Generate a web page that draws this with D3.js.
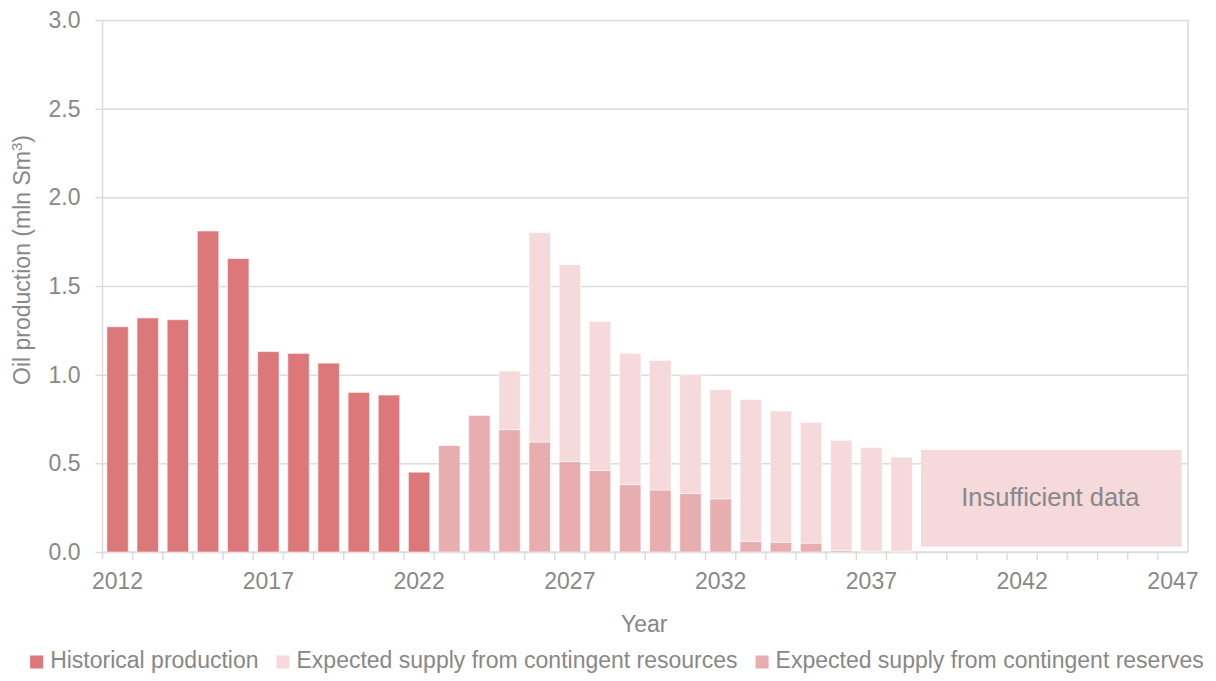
<!DOCTYPE html>
<html>
<head>
<meta charset="utf-8">
<script src="https://cdn.jsdelivr.net/npm/d3@7"></script>
<style>
  html, body { margin: 0; padding: 0; background: #fff; }
  svg text { font-family: "Liberation Sans", Arial, sans-serif; fill: #888888; }
</style>
</head>
<body>
<svg id="chart" width="1216" height="681"></svg>
<script>
// Years on the category axis
const years = d3.range(2012, 2048);
const tickYears = [2012, 2017, 2022, 2027, 2032, 2037, 2042, 2047];
const yTicks = [0, 0.5, 1.0, 1.5, 2.0, 2.5, 3.0];

// Historical production, 2012–2022 (mln Sm3)
const historicalYears = [2012, 2013, 2014, 2015, 2016, 2017, 2018, 2019, 2020, 2021, 2022];
const historical = [1.27, 1.32, 1.31, 1.81, 1.655, 1.13, 1.12, 1.065, 0.90, 0.885, 0.45];

// Expected supply, 2023–2038 (mln Sm3)
const forecastYears = [2023, 2024, 2025, 2026, 2027, 2028, 2029, 2030, 2031, 2032, 2033, 2034, 2035, 2036, 2037, 2038];
const reserves  = [0.60, 0.77, 0.69, 0.62, 0.51, 0.46, 0.38, 0.35, 0.33, 0.30, 0.06, 0.055, 0.05, 0.01, 0.005, 0.005];
const resources = [0.00, 0.00, 0.33, 1.18, 1.11, 0.84, 0.74, 0.73, 0.67, 0.615, 0.80, 0.74, 0.68, 0.62, 0.585, 0.53];

// Period without a forecast
const insufficientYears = [2039, 2047];
const insufficientValues = [0.03, 0.575];

const colors = {
  historical: "#dc777a",
  resources: "#f5d9db",
  reserves: "#e8adae"
};

const FS = 23;

const svg = d3.select("#chart");
const margin = { top: 20, right: 28, bottom: 129, left: 102.5 };
const W = 1216, H = 681;
const iw = W - margin.left - margin.right;
const ih = H - margin.top - margin.bottom;
const g = svg.append("g").attr("transform", `translate(${margin.left},${margin.top})`);

const x = d3.scaleBand().domain(years).range([0, iw]).paddingInner(0.29).paddingOuter(0.145);
const xStep = x.step();
const y = d3.scaleLinear().domain([0, 3]).range([ih, 0]);

// Horizontal gridlines with short outer ticks
const yAxis = d3.axisLeft(y).tickValues(yTicks).tickFormat(d3.format(".1f"))
  .tickSizeInner(-iw).tickSizeOuter(0).tickPadding(16);
const yg = g.append("g").call(yAxis);
yg.select(".domain").remove();
yg.selectAll(".tick line").attr("stroke", "#dcdcdc").attr("stroke-width", 1.5).attr("x1", -7);
yg.selectAll(".tick text").attr("font-size", FS).attr("fill", "#888").attr("x", -22);

// Frame on left and right
g.append("line").attr("x1", 0).attr("x2", 0).attr("y1", 0).attr("y2", ih + 7)
  .attr("stroke", "#dcdcdc").attr("stroke-width", 1.5);
g.append("line").attr("x1", iw).attr("x2", iw).attr("y1", 0).attr("y2", ih)
  .attr("stroke", "#dcdcdc").attr("stroke-width", 1.5);

// Category boundaries on the x axis
const xb = g.append("g").attr("transform", `translate(0,${ih})`);
xb.append("line").attr("x1", 0).attr("x2", iw).attr("stroke", "#dcdcdc").attr("stroke-width", 1.5);
xb.selectAll("line.b").data(years.slice(1)).join("line").attr("class", "b")
  .attr("x1", d => x(d) - (xStep - x.bandwidth()) / 2)
  .attr("x2", d => x(d) - (xStep - x.bandwidth()) / 2)
  .attr("y1", 0).attr("y2", 8).attr("stroke", "#dcdcdc").attr("stroke-width", 1.5);

const xAxis = d3.axisBottom(x).tickValues(tickYears).tickSize(0).tickPadding(21);
const xg = g.append("g").attr("transform", `translate(0,${ih})`).call(xAxis);
xg.select(".domain").remove();
xg.selectAll(".tick text").attr("font-size", FS).attr("fill", "#888");

// Bars
const barStroke = "rgba(255,255,255,0.55)";
g.append("g").selectAll("rect").data(historicalYears).join("rect")
  .attr("x", d => x(d)).attr("width", x.bandwidth())
  .attr("y", (d, i) => y(historical[i])).attr("height", (d, i) => y(0) - y(historical[i]))
  .attr("fill", colors.historical).attr("stroke", barStroke).attr("stroke-width", 1);

g.append("g").selectAll("rect").data(forecastYears).join("rect")
  .attr("x", d => x(d)).attr("width", x.bandwidth())
  .attr("y", (d, i) => y(reserves[i])).attr("height", (d, i) => y(0) - y(reserves[i]))
  .attr("fill", colors.reserves).attr("stroke", barStroke).attr("stroke-width", 1);

g.append("g").selectAll("rect").data(forecastYears).join("rect")
  .filter((d, i) => resources[i] > 0)
  .attr("x", d => x(d)).attr("width", x.bandwidth())
  .attr("y", d => { const i = forecastYears.indexOf(d); return y(reserves[i] + resources[i]); })
  .attr("height", d => { const i = forecastYears.indexOf(d); return y(reserves[i]) - y(reserves[i] + resources[i]); })
  .attr("fill", colors.resources).attr("stroke", barStroke).attr("stroke-width", 1);

// "Insufficient data" block
const bx0 = x(insufficientYears[0]);
const bx1 = x(insufficientYears[1]) + x.bandwidth() - 2;
g.append("rect").attr("x", bx0).attr("width", bx1 - bx0)
  .attr("y", y(insufficientValues[1])).attr("height", y(insufficientValues[0]) - y(insufficientValues[1]))
  .attr("fill", colors.resources);
g.append("text").attr("x", (bx0 + bx1) / 2 - 1).attr("y", y((insufficientValues[0] + insufficientValues[1]) / 2) + 1)
  .attr("text-anchor", "middle").attr("dominant-baseline", "middle")
  .attr("font-size", 25.5).attr("fill", "#888").text("Insufficient data");

// Axis titles
g.append("text").attr("x", iw / 2 - 1).attr("y", ih + 80).attr("text-anchor", "middle")
  .attr("font-size", FS).text("Year");
const yt = svg.append("text").attr("transform", `translate(30,260) rotate(-90)`).attr("text-anchor", "middle")
  .attr("font-size", FS);
yt.append("tspan").text("Oil production (mln Sm");
yt.append("tspan").attr("dy", -8).attr("font-size", 15).text("3");
yt.append("tspan").attr("dy", 8).text(")");

// Legend
const legendItems = [
  { label: "Historical production", color: colors.historical },
  { label: "Expected supply from contingent resources", color: colors.resources },
  { label: "Expected supply from contingent reserves", color: colors.reserves }
];
const lg = svg.append("g").attr("transform", "translate(0,662)");
const items = lg.selectAll("g").data(legendItems).join("g");
items.append("rect").attr("width", 13).attr("height", 13).attr("y", -6.5).attr("fill", d => d.color);
items.append("text").attr("x", 20).attr("dominant-baseline", "middle").attr("font-size", FS).text(d => d.label);
let cx = 0;
const offsets = [];
items.each(function () {
  offsets.push(cx);
  cx += 20 + this.querySelector("text").getComputedTextLength() + 18;
});
const total = cx - 18;
const start = 617 - total / 2;
items.attr("transform", (d, i) => `translate(${start + offsets[i]},0)`);
</script>
</body>
</html>
